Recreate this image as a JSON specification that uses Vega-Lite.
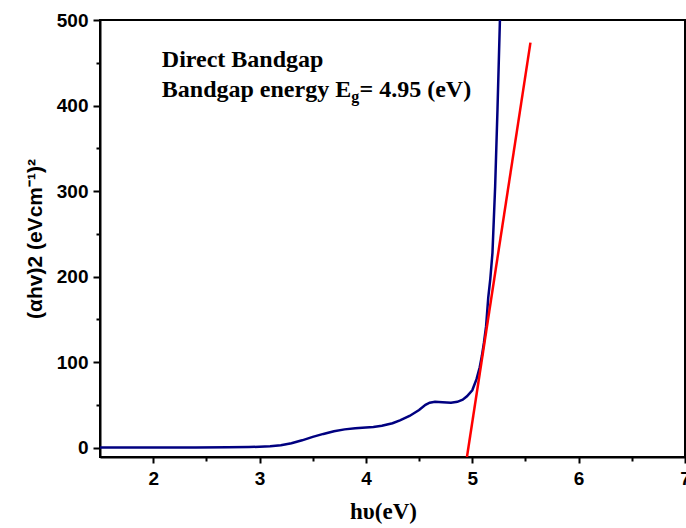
{
  "$schema": "https://vega.github.io/schema/vega-lite/v6.json",
  "width": 585,
  "height": 437,
  "autosize": "none",
  "padding": {"left": 100, "top": 20, "right": 1, "bottom": 71},
  "background": "white",
  "config": {
    "view": {"stroke": "black", "strokeWidth": 2},
    "axis": {"grid": false, "domainColor": "black", "tickColor": "black", "labelColor": "black", "titleColor": "black"}
  },
  "datasets": {
    "curve": [
      {"hv": 1.5, "v": 0}, {"hv": 1.8, "v": 0}, {"hv": 2.1, "v": 0}, {"hv": 2.4, "v": 0.1},
      {"hv": 2.7, "v": 0.3}, {"hv": 2.9, "v": 0.6}, {"hv": 3.0, "v": 1}, {"hv": 3.1, "v": 1.6},
      {"hv": 3.2, "v": 2.8}, {"hv": 3.3, "v": 5}, {"hv": 3.4, "v": 8.5}, {"hv": 3.5, "v": 12.5},
      {"hv": 3.6, "v": 16}, {"hv": 3.7, "v": 19}, {"hv": 3.8, "v": 21.3}, {"hv": 3.9, "v": 22.6},
      {"hv": 4.0, "v": 23.4}, {"hv": 4.07, "v": 24}, {"hv": 4.15, "v": 25.5}, {"hv": 4.25, "v": 28.5},
      {"hv": 4.32, "v": 31.8}, {"hv": 4.41, "v": 37}, {"hv": 4.5, "v": 44}, {"hv": 4.56, "v": 50},
      {"hv": 4.6, "v": 52.5}, {"hv": 4.65, "v": 53.5}, {"hv": 4.72, "v": 53}, {"hv": 4.8, "v": 52.5},
      {"hv": 4.86, "v": 53.5}, {"hv": 4.91, "v": 56}, {"hv": 4.95, "v": 60}, {"hv": 5.0, "v": 67},
      {"hv": 5.04, "v": 80}, {"hv": 5.07, "v": 94}, {"hv": 5.09, "v": 107}, {"hv": 5.11, "v": 123},
      {"hv": 5.13, "v": 142}, {"hv": 5.15, "v": 175}, {"hv": 5.17, "v": 198}, {"hv": 5.19, "v": 228},
      {"hv": 5.215, "v": 305}, {"hv": 5.237, "v": 395}, {"hv": 5.26, "v": 500}
    ],
    "fit": [
      {"hv": 4.95, "v": -11}, {"hv": 5.547, "v": 473.5}
    ],
    "one": [{}]
  },
  "layer": [
    {
      "data": {"name": "curve"},
      "mark": {"type": "line", "color": "#000080", "strokeWidth": 2.5, "clip": true},
      "encoding": {
        "x": {
          "field": "hv", "type": "quantitative",
          "scale": {"domain": [1.5, 7], "nice": false, "zero": false},
          "axis": {
            "orient": "bottom", "values": [2, 3, 4, 5, 6, 7], "format": "d",
            "tickSize": 6, "tickWidth": 2, "domainWidth": 2,
            "labelFont": "Liberation Sans", "labelFontWeight": "bold", "labelFontSize": 19, "labelPadding": 6,
            "labelFlush": false, "labelOverlap": false,
            "title": "hυ(eV)", "titleFont": "Liberation Serif", "titleFontWeight": "bold", "titleFontSize": 23,
            "titlePadding": 12, "titleX": 283, "titleAlign": "center"
          }
        },
        "y": {
          "field": "v", "type": "quantitative",
          "scale": {"domain": [-11, 500], "nice": false, "zero": false},
          "axis": {
            "orient": "left", "values": [0, 100, 200, 300, 400, 500],
            "tickSize": 7, "tickWidth": 2, "domainWidth": 2,
            "labelFont": "Liberation Sans", "labelFontWeight": "bold", "labelFontSize": 19, "labelPadding": 5,
            "labelFlush": false, "labelOverlap": false,
            "title": "(αhv)2 (eVcm⁻¹)²", "titleFont": "Liberation Sans", "titleFontWeight": "bold", "titleFontSize": 21,
            "titlePadding": 11
          }
        }
      }
    },
    {
      "data": {"name": "fit"},
      "mark": {"type": "line", "color": "#ff0000", "strokeWidth": 2.5, "clip": true},
      "encoding": {
        "x": {
          "field": "hv", "type": "quantitative",
          "axis": {"orient": "bottom", "values": [2.5, 3.5, 4.5, 5.5, 6.5], "labels": false, "domain": false,
                   "tickSize": 4, "tickWidth": 2, "title": null}
        },
        "y": {
          "field": "v", "type": "quantitative",
          "axis": {"orient": "left", "values": [50, 150, 250, 350, 450], "labels": false, "domain": false,
                   "tickSize": 4, "tickWidth": 2, "title": null}
        }
      }
    },
    {
      "data": {"name": "one"},
      "mark": {"type": "text", "text": "Direct Bandgap", "align": "left", "baseline": "alphabetic",
               "font": "Liberation Serif", "fontWeight": "bold", "fontSize": 24, "color": "black"},
      "encoding": {
        "x": {"datum": 2.081, "type": "quantitative", "axis": null},
        "y": {"datum": 444.6, "type": "quantitative", "axis": null}
      }
    },
    {
      "data": {"name": "one"},
      "mark": {"type": "text", "text": "Bandgap energy E", "align": "left", "baseline": "alphabetic",
               "font": "Liberation Serif", "fontWeight": "bold", "fontSize": 24, "color": "black"},
      "encoding": {
        "x": {"datum": 2.081, "type": "quantitative", "axis": null},
        "y": {"datum": 409.4, "type": "quantitative", "axis": null}
      }
    },
    {
      "data": {"name": "one"},
      "mark": {"type": "text", "text": "g", "align": "left", "baseline": "alphabetic",
               "font": "Liberation Serif", "fontWeight": "bold", "fontSize": 16, "color": "black"},
      "encoding": {
        "x": {"datum": 3.862, "type": "quantitative", "axis": null},
        "y": {"datum": 404.5, "type": "quantitative", "axis": null}
      }
    },
    {
      "data": {"name": "one"},
      "mark": {"type": "text", "text": "= 4.95 (eV)", "align": "left", "baseline": "alphabetic",
               "font": "Liberation Serif", "fontWeight": "bold", "fontSize": 24, "color": "black"},
      "encoding": {
        "x": {"datum": 3.94, "type": "quantitative", "axis": null},
        "y": {"datum": 409.4, "type": "quantitative", "axis": null}
      }
    }
  ],
  "resolve": {"axis": {"x": "independent", "y": "independent"}}
}
